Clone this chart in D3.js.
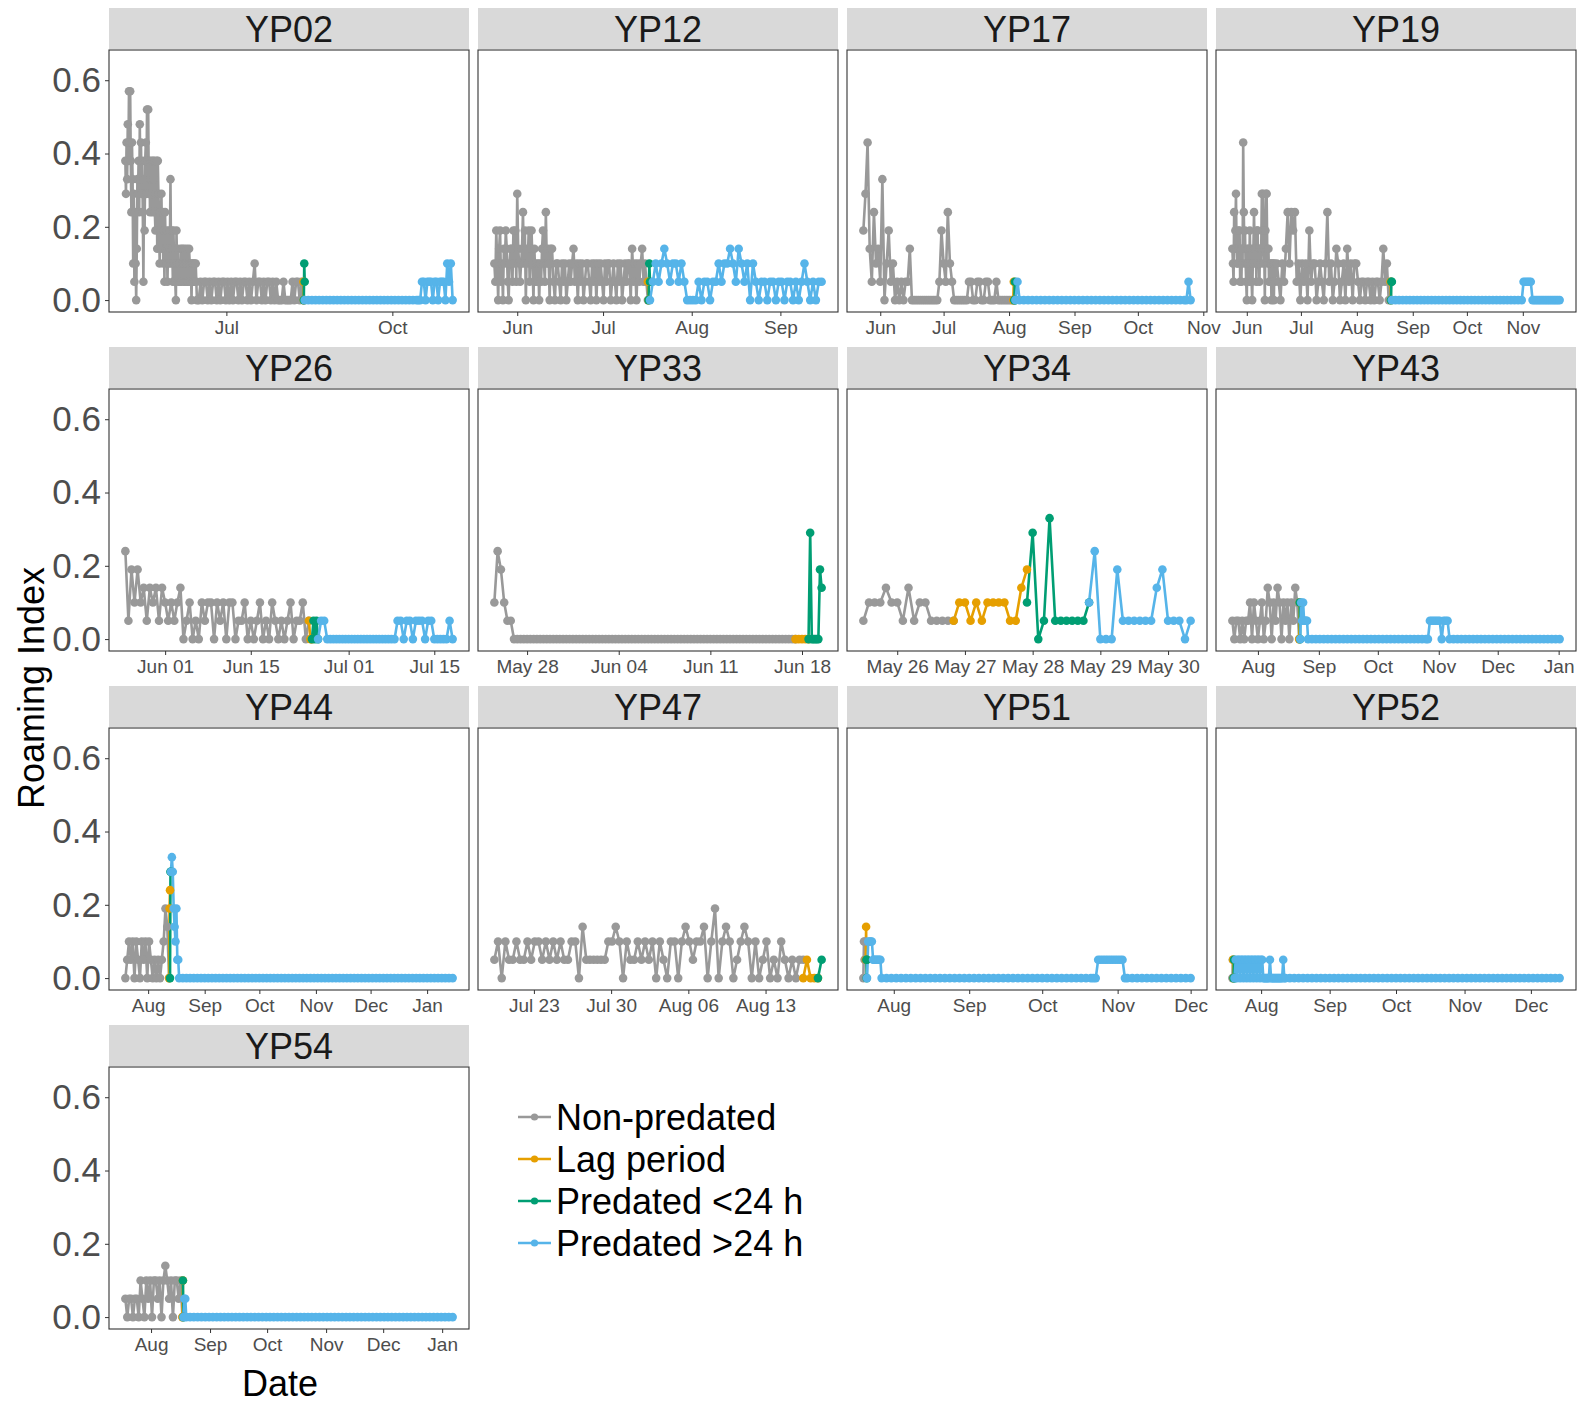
<!DOCTYPE html>
<html>
<head>
<meta charset="utf-8">
<script src="https://cdn.jsdelivr.net/npm/d3@7"></script>
<style>
  body { margin: 0; background: #fff; }
</style>
</head>
<body>
<div id="chart"></div>
<script>
// legend groups and colours
var phaseNames = ["Non-predated", "Lag period", "Predated <24 h", "Predated >24 h"];
var phaseColors = ["#999999", "#E69F00", "#009E73", "#56B4E9"];
var yTicks = [0, 0.2, 0.4, 0.6];

var panelIds = ["YP02", "YP12", "YP17", "YP19", "YP26", "YP33", "YP34", "YP43", "YP44", "YP47", "YP51", "YP52", "YP54"];
// time of first fix (UTC)
var panelStart = ["2016-05-06T00:00", "2016-05-24T00:00", "2016-05-24T00:00", "2016-05-24T00:00",
                  "2016-05-25T12:00", "2016-05-25T12:00", "2016-05-25T12:00", "2016-07-19T00:00",
                  "2016-07-19T12:00", "2016-07-19T10:00", "2016-07-19T12:00", "2016-07-19T00:00",
                  "2016-07-18T12:00"];
var months = ["2016-08-01", "2016-09-01", "2016-10-01", "2016-11-01", "2016-12-01"];
var panelTicks = [
  ["2016-07-01", "2016-10-01"],
  ["2016-06-01", "2016-07-01", "2016-08-01", "2016-09-01"],
  ["2016-06-01", "2016-07-01", "2016-08-01", "2016-09-01", "2016-10-01", "2016-11-01"],
  ["2016-06-01", "2016-07-01", "2016-08-01", "2016-09-01", "2016-10-01", "2016-11-01"],
  ["2016-06-01", "2016-06-15", "2016-07-01", "2016-07-15"],
  ["2016-05-28", "2016-06-04", "2016-06-11", "2016-06-18"],
  ["2016-05-26", "2016-05-27", "2016-05-28", "2016-05-29", "2016-05-30"],
  months.concat(["2017-01-01"]),
  months.concat(["2017-01-01"]),
  ["2016-07-23", "2016-07-30", "2016-08-06", "2016-08-13"],
  months,
  months,
  months.concat(["2017-01-01"])
];
var panelTickFmt = ["%b", "%b", "%b", "%b", "%b %d", "%b %d", "%b %d", "%b", "%b", "%b %d", "%b", "%b", "%b"];

// series: [phase, hours between fixes, roaming index values]
var yp02 = [
  [0, 8, [0.38,0.29,0.43, 0.33,0.48,0.38, 0.57,0.43,0.57, 0.38,0.24,0.43, 0.33,0.1,0.29,
          0.05,0.24,0.1, 0,0.14,0.33, 0.29,0.38,0.24, 0.48,0.33,0.43, 0.29,0.38,0.24,
          0.05,0.33,0.19, 0.38,0.43,0.29, 0.52,0.38,0.52, 0.29,0.38,0.24, 0.33,0.38,0.29,
          0.24,0.38,0.33, 0.38,0.24,0.19, 0.29,0.38,0.14, 0.38,0.29,0.24, 0.1,0.24,0.19,
          0.29,0.14,0.24, 0.1,0.19,0.05, 0.24,0.14,0.1, 0.19,0.05,0.14, 0.1,0.19,0.14,
          0.33,0.1,0.19, 0.14,0.05,0.19, 0.1,0.14,0.05, 0,0.19,0.1, 0.14,0.05,0.1,
          0.1,0.05,0.14, 0.05,0.1,0.14, 0.1,0.05,0.14, 0.1,0.05,0.1, 0.14,0.05,0.1,
          0.05,0.14,0.1, 0.05,0.1,0, 0.1,0.05,0.1, 0.05,0.1,0.05, 0.1,0.05,0]],
  [0, 24, [0,0.05,0,0.05,0.05,0,0.05,0,0.05,
           0.05,0,0.05,0,0.05,0.05,0,0.05,0,0.05,
           0,0.05,0.05,0,0.05,0,0.05,0.05,0,0.05,
           0,0.05,0.1,0,0.05,0.05,0,0.05,0,0.05,
           0.05,0,0.05,0,0.05,0,0,0,0.05,0,
           0,0,0,0.05,0,0.05,0.05,0,0.05,0]],
  [1, 6, [0.05,0]],
  [2, 6, [0,0.1,0.05]],
  [3, 48, [0,0,0,0,0,0,0,0,0,0, 0,0,0,0,0,0,0,0,0,0, 0,0,0,0,0,0,0,0,0,0, 0,0]],
  [3, 24, [0,0,0.05,0.05,0,0.05,0.05,0.05,0,0.05, 0.05,0,0.05,0.05,0.05,0,0.1,0.05,0.1,0]]
];
var yp12 = [
  [0, 8, [0.1,0.05,0.19, 0.1,0,0.14, 0.19,0.05,0.1, 0,0.14,0.1, 0.19,0.14,0.05,
          0,0.1,0.14, 0.14,0.05,0.19, 0.1,0.19,0.05, 0.29,0.14,0.1, 0.05,0.1,0.14,
          0.24,0.1,0.19, 0,0.14,0.1, 0.19,0.05,0.14, 0.19,0.1,0, 0.14,0.05,0.1,
          0.05,0.1,0, 0.1,0.05,0.14, 0.19,0.1,0.05, 0.24,0.1,0.14, 0.1,0,0.14]],
  [0, 12, [0.14,0.05,0,0.1,0.1,0.05,0,0.1,0.05,0.1,
           0,0.05,0.1,0.05,0.1,0.14,0.05,0.1,0,0.1,
           0.05,0.1,0,0.05,0.1,0.1,0.05,0,0.1,0.05,
           0.1,0,0.1,0.05,0.1,0.05,0,0.1,0.05,0.1,
           0.1,0,0.05,0.1,0.05,0,0.1,0.05,0.1,0,
           0.05,0.1,0.05,0.1,0.1,0,0.14,0.05,0.1,0,
           0.1,0.05,0.1,0.14,0.05,0.1,0.05,0]],
  [1, 6, [0.05,0]],
  [2, 6, [0,0.1,0.05]],
  [3, 24, [0,0.05,0.1,0.05,0.1,0.14,0.1,0.05,0.1,0.1,
           0.05,0.1,0.05,0,0,0,0,0.05,0,0.05,
           0.05,0,0.05,0.05,0.1,0.05,0.1,0.1,0.14,0.1,
           0.05,0.14,0.1,0.05,0.1,0,0.1,0.05,0,0.05,
           0.05,0,0.05,0.05,0,0.05,0.05,0,0.05,0.05,
           0,0.05,0,0.05,0.1,0.05,0,0.05,0,0.05,
           0.05]]
];
var yp17 = [
  [0, 24, [0.19,0.29,0.43,0.14,0.05,0.24,0.1,0.14,0.05,0.33,
           0,0.1,0.19,0.05,0.1,0,0.05,0,0.05,0,
           0.05,0.05,0.14,0,0,0,0,0,0,0,
           0,0,0,0,0,0,0.05,0.19,0.1,0.05,
           0.24,0.1,0.05,0,0,0,0,0,0,0,
           0.05,0.05,0,0,0.05,0.05,0,0,0.05,0.05,
           0,0,0,0.05,0,0,0,0,0,0,
           0,0]],
  [1, 6, [0,0.05,0]],
  [2, 6, [0,0.05,0]],
  [3, 24, [0,0.05,0]],
  [3, 48, [0,0,0,0,0,0,0,0,0,0, 0,0,0,0,0,0,0,0,0,0, 0,0,0,0,0,0,0,0,0,0, 0,0,0,0,0,0,0,0,0]],
  [3, 24, [0,0.05,0]]
];
var yp19 = [
  [0, 8, [0.14,0.1,0.05, 0.24,0.14,0.19, 0.29,0.14,0.1, 0.1,0.19,0.14, 0.19,0.05,0.14,
          0.05,0.14,0.1, 0.43,0.24,0.14, 0.19,0.1,0.05, 0,0.14,0.1, 0.14,0.05,0.19,
          0.1,0.14,0.05, 0,0.1,0.14, 0.24,0.14,0.1, 0.14,0.05,0.19, 0.19,0.1,0.14,
          0.05,0.14,0.1, 0.14,0.29,0.19, 0.29,0.1,0.14, 0,0.19,0.29, 0.29,0.14,0.1,
          0.14,0.05,0.1, 0.05,0.1,0, 0.1,0.05,0.1, 0,0.1,0.05]],
  [0, 24, [0.1,0.05,0,0.1,0.05,0.14,
           0.24,0.1,0.24,0.19,0.24,0.05,0.1,0,0.1,0.05,
           0.1,0,0.19,0.05,0.1,0.1,0,0.05,0.1,0.05,
           0,0.1,0.24,0.05,0.1,0,0.05,0.14,0.1,0,
           0.05,0.1,0,0.14,0.05,0.1,0,0.1,0.1,0.05,
           0,0.05,0.05,0,0.05,0.05,0,0.05,0,0.05,
           0.05,0,0.05,0.14,0.05,0.1,0,0.05]],
  [1, 6, [0.05,0]],
  [2, 6, [0,0.05,0.05]],
  [3, 48, [0,0,0,0,0,0,0,0,0,0, 0,0,0,0,0,0,0,0,0,0, 0,0,0,0,0,0,0,0,0,0, 0,0,0,0,0,0,0]],
  [3, 24, [0.05,0.05,0.05,0.05,0.05,0,0,0,0,0, 0,0,0,0,0,0,0,0,0,0, 0]]
];
var yp26 = [
  [0, 12, [0.24,0.05,0.19,0.1,0.19,0.1,0.14,0.05,0.14,0.1,
           0.14,0.05,0.14,0.1,0.05,0.1,0.05,0.1,0.14,0,
           0.05,0.1,0,0.05,0,0.1,0.05,0.1,0.1,0,
           0.1,0.05,0.1,0,0.1,0.1,0,0.05,0.05,0.1,
           0,0.05,0,0.05,0.1,0,0.05,0,0.1,0.05,
           0,0.05,0,0.05,0.1,0,0.05,0.05,0.1,0,
           0.05]],
  [1, 6, [0.05,0,0]],
  [2, 6, [0,0.05,0,0.05,0]],
  [3, 12, [0,0.05,0.05,0,0,0,0,0,0,0,
           0,0,0,0,0,0,0,0,0,0,
           0,0,0,0,0,0,0.05,0.05,0,0.05,
           0.05,0,0.05,0.05,0.05,0,0.05,0.05,0,0,
           0,0,0,0.05,0]]
];
var yp33 = [
  [0, 6, [0.1,0.24,0.19,0.1,0.05,0.05,0,0,0,0,
          0,0,0,0,0,0,0,0,0,0, 0,0,0,0,0,0,0,0,0,0,
          0,0,0,0,0,0,0,0,0,0, 0,0,0,0,0,0,0,0,0,0,
          0,0,0,0,0,0,0,0,0,0, 0,0,0,0,0,0,0,0,0,0,
          0,0,0,0,0,0,0,0,0,0, 0,0,0,0,0,0,0,0,0,0,
          0,0,0]],
  [1, 6, [0,0,0,0,0]],
  [2, 3, [0,0.29,0,0,0,0,0,0.19,0.14]]
];
var yp34 = [
  [0, 2, [0.05,0.1,0.1,0.1,0.14,0.1,0.1,0.05,0.14,0.05,0.1,0.1,0.05,0.05,0.05,0.05,0.05]],
  [1, 2, [0.05,0.1,0.1,0.05,0.1,0.05,0.1,0.1,0.1,0.1,0.05,0.05,0.14,0.19]],
  [2, 2, [0.1,0.29,0,0.05,0.33,0.05,0.05,0.05,0.05,0.05,0.05,0.1]],
  [3, 2, [0.1,0.24,0,0,0,0.19,0.05,0.05,0.05,0.05,0.05,0.05,0.14,0.19,0.05,0.05,0.05,0,0.05]]
];
var yp43 = [
  [0, 24, [0.05,0,0.05,0.05,0,0.05,0,0.05,0.05,0.1,
           0,0.1,0.05,0,0.05,0.1,0,0.05,0.14,0.1,
           0,0.1,0.05,0.14,0.1,0,0.1,0.05,0.1,0,
           0.1,0.05,0.14,0.1,0]],
  [1, 6, [0,0.1]],
  [2, 6, [0.1,0]],
  [3, 12, [0,0.1,0.05,0.1,0.05,0.05,0.05,0.05,0]],
  [3, 48, [0,0,0,0,0,0,0,0,0,0, 0,0,0,0,0,0,0,0,0,0, 0,0,0,0,0,0,0,0,0,0]],
  [3, 24, [0,0.05,0.05,0.05,0.05,0.05,0.05,0,0.05,0.05,0.05,0]],
  [3, 48, [0,0,0,0,0,0,0,0,0,0, 0,0,0,0,0,0,0,0,0,0, 0,0,0,0,0,0,0,0]]
];
var yp44 = [
  [0, 24, [0,0.05,0.1,0.05,0.1,0,0.1,0.05,0,0.1,
           0.05,0.1,0,0.1,0.05,0,0.05,0,0.05,0,
           0.05,0.1,0.19,0.14,0]],
  [1, 6, [0,0.19,0.24]],
  [2, 6, [0,0.29,0.29]],
  [3, 12, [0.29,0.33,0.29,0.19,0.14,0.1,0.19,0.05,0.05,0]],
  [3, 48, [0,0,0,0,0,0,0,0,0,0, 0,0,0,0,0,0,0,0,0,0, 0,0,0,0,0,0,0,0,0,0,
           0,0,0,0,0,0,0,0,0,0, 0,0,0,0,0,0,0,0,0,0, 0,0,0,0,0,0,0,0,0,0,
           0,0,0,0,0,0,0,0,0,0, 0,0,0,0,0]]
];
var yp47 = [
  [0, 8, [0.05,0.1,0,0.1,0.05,0.05,0.1,0.05,0.05,0.1,
          0.05,0.1,0.1,0.05,0.1,0.05,0.1,0.05,0.1,0.05,
          0.05,0.1,0.1,0,0.14,0.05,0.05,0.05,0.05,0.05,
          0.05,0.1,0.1,0.14,0.1,0,0.1,0.05,0.05,0.1,
          0.05,0.1,0.05,0.1,0,0.1,0.05,0,0.1,0.1,
          0,0.1,0.14,0.1,0.05,0.1,0.1,0.14,0,0.1,
          0.19,0,0.1,0.14,0.1,0,0.05,0.1,0.14,0.1,
          0,0.1,0,0.05,0.1,0,0.05,0,0.1,0.05,
          0,0.05,0,0.05,0.05]],
  [1, 8, [0,0.05,0,0,0]],
  [2, 8, [0,0.05]]
];
var yp51 = [
  [0, 6, [0,0.1,0.05,0.1,0.05]],
  [1, 3, [0.05,0.14,0.05]],
  [2, 3, [0.05,0,0.05]],
  [3, 12, [0,0.1,0.1,0.1,0.1,0.05,0.05,0.05,0.05,0.05,0.05,0.05,0]],
  [3, 48, [0,0,0,0,0,0,0,0,0,0, 0,0,0,0,0,0,0,0,0,0, 0,0,0,0,0,0,0,0,0,0, 0,0,0,0,0,0,0,0,0,0, 0,0,0]],
  [3, 24, [0,0,0.05,0.05,0.05,0.05,0.05,0.05,0.05,0.05,0.05,0.05,0.05,0,0]],
  [3, 48, [0,0,0,0,0,0,0,0,0,0, 0,0,0]]
];
var yp52 = [
  [0, 6, [0,0.05]],
  [1, 6, [0.05,0]],
  [2, 6, [0,0.05,0]],
  [3, 12, [0,0.05,0,0.05,0.05,0,0.05,0.05,0,0.05,
           0.05,0,0.05,0.05,0,0.05,0.05,0,0.05,0.05,
           0,0.05,0.05,0,0.05,0.05,0,0,0,0,
           0,0,0.05,0,0,0,0,0,0,0,
           0,0,0,0,0.05,0,0]],
  [3, 48, [0,0,0,0,0,0,0,0,0,0, 0,0,0,0,0,0,0,0,0,0, 0,0,0,0,0,0,0,0,0,0,
           0,0,0,0,0,0,0,0,0,0, 0,0,0,0,0,0,0,0,0,0, 0,0,0,0,0,0,0,0,0,0, 0,0]]
];
var yp54 = [
  [0, 24, [0.05,0,0.05,0.05,0,0.05,0.05,0,0.1,0.05,
           0,0.1,0.05,0.1,0,0.1,0.1,0.05,0.1,0,
           0.1,0.14,0.1,0.05,0.1,0,0.1,0.1,0.05,0.1,
           0]],
  [1, 6, [0,0.1]],
  [2, 6, [0.1,0]],
  [3, 12, [0,0.05,0.05,0]],
  [3, 48, [0,0,0,0,0,0,0,0,0,0, 0,0,0,0,0,0,0,0,0,0, 0,0,0,0,0,0,0,0,0,0,
           0,0,0,0,0,0,0,0,0,0, 0,0,0,0,0,0,0,0,0,0, 0,0,0,0,0,0,0,0,0,0,
           0,0,0,0,0,0,0,0,0,0]]
];
var panelSeries = [yp02, yp12, yp17, yp19, yp26, yp33, yp34, yp43, yp44, yp47, yp51, yp52, yp54];

// set the dimensions of the facets
var W = 360, H = 262;
var colX = [109, 478, 847, 1216];
var rowY = [50, 389, 728, 1067];
var font = "'Liberation Sans', Arial, sans-serif";
var dotR = 4.3, lineW = 2.6;

var svg = d3.select("#chart")
  .append("svg")
    .attr("width", 1594)
    .attr("height", 1410)
    .style("font-family", font);

var parseTime = d3.utcParse("%Y-%m-%dT%H:%M");
var parseDay = d3.utcParse("%Y-%m-%d");
var HOUR = 3600 * 1000;

// a new phase starts at the time of the last fix of the previous one
function buildPoints(segs, start) {
  var pts = [], t = start.getTime(), prev = null;
  segs.forEach(function(s) {
    s[2].forEach(function(v, i) {
      if (pts.length && !(i === 0 && s[0] !== prev)) t += s[1] * HOUR;
      pts.push({t: new Date(t), v: v, ph: s[0]});
    });
    prev = s[0];
  });
  return pts;
}

var y = d3.scaleLinear().domain([-0.0325, 0.6825]).range([H, 0]);

panelIds.forEach(function(id, i) {
  var col = i % 4, row = Math.floor(i / 4);
  var g = svg.append("g")
    .attr("transform", "translate(" + colX[col] + "," + rowY[row] + ")");

  var pts = buildPoints(panelSeries[i], parseTime(panelStart[i]));
  var ext = d3.extent(pts, function(d) { return d.t; });
  var pad = (ext[1] - ext[0]) * 0.05;
  var x = d3.scaleUtc()
    .domain([new Date(+ext[0] - pad), new Date(+ext[1] + pad)])
    .range([0, W]);

  // strip
  g.append("rect")
    .attr("x", 0).attr("y", -42)
    .attr("width", W).attr("height", 41)
    .attr("fill", "#D9D9D9");
  g.append("text")
    .attr("x", W / 2).attr("y", -8)
    .attr("text-anchor", "middle")
    .attr("font-size", 36)
    .attr("fill", "#1A1A1A")
    .text(id);

  // lines
  var line = d3.line()
    .x(function(d) { return x(d.t); })
    .y(function(d) { return y(d.v); });
  phaseNames.forEach(function(p, k) {
    var sub = pts.filter(function(d) { return d.ph === k; });
    if (!sub.length) return;
    g.append("path")
      .datum(sub)
      .attr("d", line)
      .attr("fill", "none")
      .attr("stroke", phaseColors[k])
      .attr("stroke-width", lineW)
      .attr("stroke-linejoin", "round");
  });

  // points
  g.selectAll("circle.pt")
    .data(pts)
    .enter()
    .append("circle")
      .attr("class", "pt")
      .attr("cx", function(d) { return x(d.t); })
      .attr("cy", function(d) { return y(d.v); })
      .attr("r", dotR)
      .attr("fill", function(d) { return phaseColors[d.ph]; });

  // x axis
  var xa = g.append("g")
    .attr("transform", "translate(0," + H + ")")
    .call(d3.axisBottom(x)
      .tickValues(panelTicks[i].map(parseDay))
      .tickFormat(d3.utcFormat(panelTickFmt[i]))
      .tickSize(4)
      .tickPadding(5))
    .attr("font-family", font)
    .attr("font-size", 19);
  xa.select(".domain").remove();
  xa.selectAll("line").attr("stroke", "#333333");
  xa.selectAll("text").attr("fill", "#4D4D4D");

  // y axis on the left column
  if (col === 0) {
    var ya = g.append("g")
      .call(d3.axisLeft(y)
        .tickValues(yTicks)
        .tickFormat(d3.format(".1f"))
        .tickSize(4)
        .tickPadding(4))
      .attr("font-family", font)
      .attr("font-size", 35);
    ya.select(".domain").remove();
    ya.selectAll("line").attr("stroke", "#333333");
    ya.selectAll("text").attr("fill", "#4D4D4D");
  }

  // panel border
  g.append("rect")
    .attr("width", W).attr("height", H)
    .attr("fill", "none")
    .attr("stroke", "#333333")
    .attr("stroke-width", 1.1);
});

// axis titles
svg.append("text")
  .attr("transform", "translate(44,688)rotate(-90)")
  .attr("text-anchor", "middle")
  .attr("font-size", 36)
  .text("Roaming Index");
svg.append("text")
  .attr("x", 280).attr("y", 1396)
  .attr("text-anchor", "middle")
  .attr("font-size", 36)
  .text("Date");

// legend
var legY = [1117, 1159, 1201, 1243];
var leg = svg.selectAll("g.leg")
  .data(phaseNames)
  .enter()
  .append("g")
    .attr("class", "leg")
    .attr("transform", function(d, k) { return "translate(518," + legY[k] + ")"; });
leg.append("line")
  .attr("x1", 0).attr("x2", 33)
  .attr("stroke", function(d, k) { return phaseColors[k]; })
  .attr("stroke-width", lineW);
leg.append("circle")
  .attr("cx", 16.5).attr("r", 3.6)
  .attr("fill", function(d, k) { return phaseColors[k]; });
leg.append("text")
  .attr("x", 38).attr("y", 13)
  .attr("font-size", 36)
  .text(function(d) { return d; });
</script>
</body>
</html>
